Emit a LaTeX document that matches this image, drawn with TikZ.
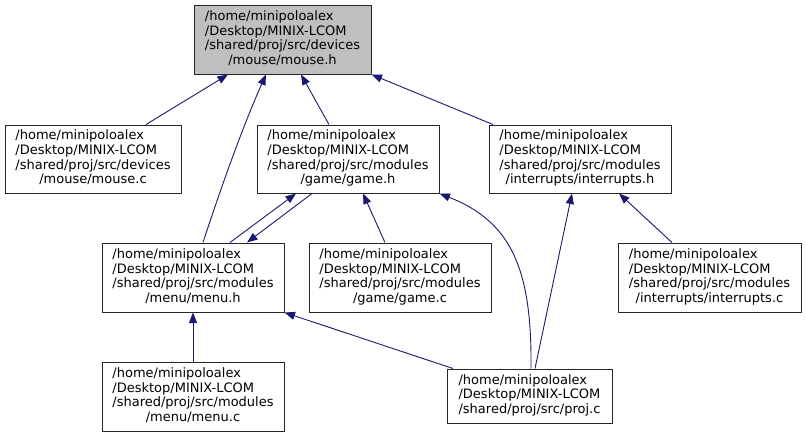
\documentclass[tikz,border=0pt]{standalone}
\usepackage{fontspec}
\setmainfont{DejaVu Sans}
\usetikzlibrary{arrows.meta}
\definecolor{edgeblue}{HTML}{191970}
\definecolor{hdrgray}{HTML}{BFBFBF}
\newcommand\lbox[2]{\begin{tabular}{@{}l@{}}#1\\\multicolumn{1}{@{}c@{}}{#2}\end{tabular}}
\tikzset{
  filebox/.style={draw=black!85, line width=1pt, inner sep=0pt, minimum height=68pt,
    text=black, font=\fontsize{13}{14.7}\selectfont},
  dep/.style={draw=edgeblue, line width=0.9pt, -{Triangle[length=10.5pt,width=8pt]}}
}
\begin{document}
\begin{tikzpicture}[x=1pt,y=-1pt]
\useasboundingbox (0,0) rectangle (806,437);
\node[filebox, fill=hdrgray, minimum width=177pt, minimum height=69pt] (mh) at (282.5,39.5)
  {\lbox{/home/minipoloalex\\/Desktop/MINIX-LCOM\\/shared/proj/src/devices}{/mouse/mouse.h}};
\node[filebox, minimum width=176pt] (mc) at (93,159)
  {\lbox{/home/minipoloalex\\/Desktop/MINIX-LCOM\\/shared/proj/src/devices}{/mouse/mouse.c}};
\node[filebox, minimum width=182pt] (gh) at (348,159)
  {\lbox{/home/minipoloalex\\/Desktop/MINIX-LCOM\\/shared/proj/src/modules}{/game/game.h}};
\node[filebox, minimum width=182pt] (ih) at (580,159)
  {\lbox{/home/minipoloalex\\/Desktop/MINIX-LCOM\\/shared/proj/src/modules}{/interrupts/interrupts.h}};
\node[filebox, minimum width=182pt, minimum height=69pt] (mnh) at (193,277.5)
  {\lbox{/home/minipoloalex\\/Desktop/MINIX-LCOM\\/shared/proj/src/modules}{/menu/menu.h}};
\node[filebox, minimum width=182pt, minimum height=69pt] (gc) at (400,277.5)
  {\lbox{/home/minipoloalex\\/Desktop/MINIX-LCOM\\/shared/proj/src/modules}{/game/game.c}};
\node[filebox, minimum width=183pt, minimum height=69pt] (ic) at (709.5,277.5)
  {\lbox{/home/minipoloalex\\/Desktop/MINIX-LCOM\\/shared/proj/src/modules}{/interrupts/interrupts.c}};
\node[filebox, minimum width=182pt, minimum height=69pt] (mnc) at (193,396.5)
  {\lbox{/home/minipoloalex\\/Desktop/MINIX-LCOM\\/shared/proj/src/modules}{/menu/menu.c}};
\node[filebox, minimum width=165pt, minimum height=54pt] (pc) at (529.5,396)
  {\lbox{/home/minipoloalex\\/Desktop/MINIX-LCOM}{/shared/proj/src/proj.c}};
% edges
\draw[dep] ([xshift=53pt]mc.north) -- ([xshift=-54.5pt]mh.south);
\draw[dep] ([xshift=10pt]mnh.north) .. controls (229,163) and (250,110) .. ([xshift=-16.5pt]mh.south);
\draw[dep] ([xshift=-19pt]gh.north) -- ([xshift=18.5pt]mh.south);
\draw[dep] ([xshift=-87pt]ih.north) -- (mh.south east);
\draw[dep] ([xshift=37pt]mnh.north) -- ([xshift=-52pt]gh.south);
\draw[dep] ([xshift=-36pt]gh.south) -- ([xshift=54pt]mnh.north);
\draw[dep] ([xshift=-15pt]gc.north) -- ([xshift=15pt]gh.south);
\draw[dep] ([xshift=1.5pt]pc.north) .. controls (532,270) and (512,222) .. (gh.south east);
\draw[dep] ([xshift=5.5pt]pc.north) -- ([xshift=-8pt]ih.south);
\draw[dep] ([xshift=-37.5pt]ic.north) -- ([xshift=39pt]ih.south);
\draw[dep] ([xshift=-76.5pt]pc.north) -- (mnh.south east);
\draw[dep] (mnc.north) -- (mnh.south);
\end{tikzpicture}
\end{document}
